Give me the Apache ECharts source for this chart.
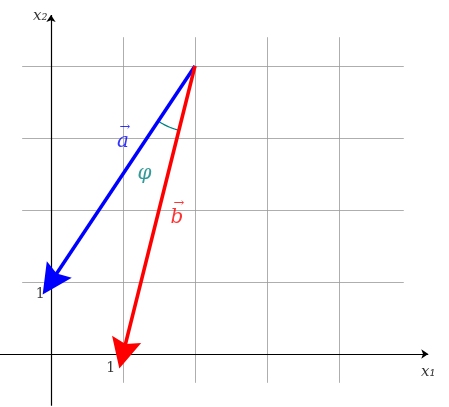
<!DOCTYPE html>
<html>
<head>
<meta charset="utf-8">
<script src="https://cdn.jsdelivr.net/npm/echarts@6/dist/echarts.min.js"></script>
<style>html,body{margin:0;padding:0;background:#fff}#c{width:449px;height:407px}</style>
</head>
<body>
<div id="c"></div>
<script>
// grid lines
var gridX = [1, 2, 3, 4];
var gridY = [1, 2, 3, 4];
var gridLo = -0.4, gridHiX = 4.9, gridHiY = 4.4;
// vectors: start and end
var vecA = [[2, 4], [0, 1]];
var vecB = [[2, 4], [1, 0]];
var arcR = 0.92;
var tickLabels = [{ v: [0.83, -0.2], t: '1' }, { v: [-0.15, 0.83], t: '1' }];

var chart = echarts.init(document.getElementById('c'));

var gridData = [];
gridX.forEach(function (x) { gridData.push({ coords: [[x, gridLo], [x, gridHiY]] }); });
gridY.forEach(function (y) { gridData.push({ coords: [[gridLo, y], [gridHiX, y]] }); });

// arc between the two vectors, centred at their common start
var a1 = Math.atan2(vecA[1][1] - vecA[0][1], vecA[1][0] - vecA[0][0]);
var a2 = Math.atan2(vecB[1][1] - vecB[0][1], vecB[1][0] - vecB[0][0]);
var arc = [];
for (var i = 0; i <= 20; i++) {
    var t = a1 + (a2 - a1) * i / 20;
    arc.push([vecA[0][0] + arcR * Math.cos(t), vecA[0][1] + arcR * Math.sin(t)]);
}

var serif = 'DejaVu Serif';
function txt(x, y, s, color, size, italic) {
    return {
        value: [x, y],
        label: { show: true, position: 'inside', formatter: s, color: color,
                 fontSize: size, fontFamily: serif, fontStyle: italic ? 'italic' : 'normal' }
    };
}
function vecLabel(x, y, s, color) {
    return {
        value: [x, y],
        label: {
            show: true, position: 'inside', formatter: '{ar|→}\n{v|' + s + '}', color: color,
            rich: {
                ar: { fontSize: 13, lineHeight: 8, color: color, fontFamily: serif, padding: [0, 0, 0, 4] },
                v: { fontSize: 20, lineHeight: 20, color: color, fontFamily: serif, fontStyle: 'italic' }
            }
        }
    };
}

var option = {
    animation: false,
    grid: { left: 0, right: 0, top: 0, bottom: 0 },
    xAxis: { type: 'value', min: -0.708, max: 5.528, show: false },
    yAxis: { type: 'value', min: -0.736, max: 4.917, show: false },
    series: [
        {
            type: 'lines', coordinateSystem: 'cartesian2d', data: gridData,
            lineStyle: { color: '#999', width: 0.8, opacity: 1 }, symbol: 'none'
        },
        {
            type: 'lines', coordinateSystem: 'cartesian2d',
            data: [{ coords: [[-0.708, 0], [5.24, 0]] }, { coords: [[0, -0.72], [0, 4.71]] }],
            lineStyle: { color: '#000', width: 1.2, opacity: 1 },
            symbol: ['none', 'arrow'], symbolSize: 7
        },
        {
            type: 'lines', coordinateSystem: 'cartesian2d', polyline: true,
            data: [{ coords: arc }],
            lineStyle: { color: '#008080', width: 1.2, opacity: 1 }, symbol: 'none'
        },
        {
            type: 'lines', coordinateSystem: 'cartesian2d',
            data: [{ coords: vecA, lineStyle: { color: '#0000ff' } },
                   { coords: vecB, lineStyle: { color: '#ff0000' } }],
            lineStyle: { width: 3.5, opacity: 1 },
            symbol: ['none', 'path://M6,0 L12,32 L6,27 L0,32 Z'], symbolSize: 30, symbolKeepAspect: true, z: 5
        },
        {
            type: 'scatter', symbolSize: 0, z: 6,
            data: [
                vecLabel(1.0, 3.0, 'a', '#0000ff'),
                vecLabel(1.75, 1.95, 'b', '#ff0000'),
                txt(1.3, 2.5, 'φ', '#008080', 20, true),
                txt(5.24, -0.25, 'x₁', '#000', 15, true),
                txt(-0.15, 4.7, 'x₂', '#000', 15, true)
            ].concat(tickLabels.map(function (d) { return txt(d.v[0], d.v[1], d.t, '#000', 14, false); }))
        }
    ]
};
chart.setOption(option);
</script>
</body>
</html>
